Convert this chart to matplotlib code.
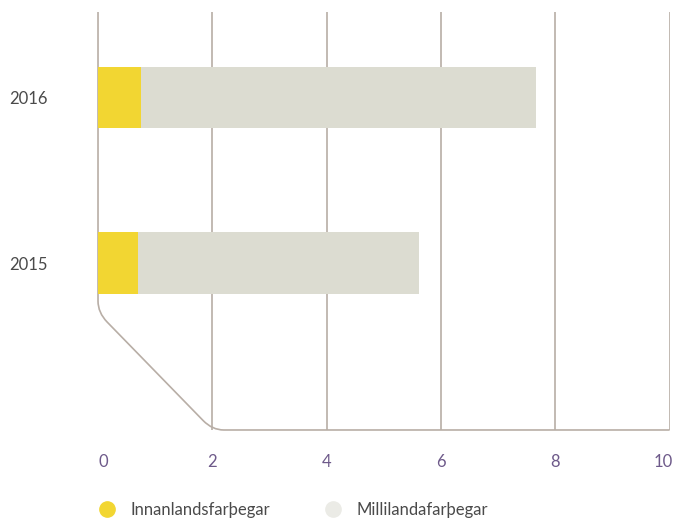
import matplotlib
matplotlib.use("Agg")
import matplotlib.pyplot as plt
import matplotlib.transforms as mtransforms
from matplotlib.path import Path
from matplotlib.patches import PathPatch
from matplotlib.lines import Line2D

years = ["2015", "2016"]
innanlands = [0.70, 0.75]
millilanda = [4.92, 6.91]
series_names = ["Innanlandsfarþegar", "Millilandafarþegar"]
x_ticks = [0, 2, 4, 6, 8, 10]

yellow = "#f2d632"
grey = "#dcdcd1"
line_col = "#b8aea6"
purple = "#6e5a8a"
text_col = "#4a4a4a"

plt.rcParams["font.family"] = ["Lato", "DejaVu Sans"]

fig = plt.figure(figsize=(6.75, 5.2), dpi=100)
ax = fig.add_axes([0.1452, 0.1731, 0.8468, 0.8038])

ypos = list(range(len(years)))
ax.barh(ypos, innanlands, height=0.37, color=yellow, zorder=3)
ax.barh(ypos, millilanda, left=innanlands, height=0.37, color=grey, zorder=3)

ybot, ytop = -1.009, 1.517
ax.set_xlim(0, 10)
ax.set_ylim(ybot, ytop)

# vertical gridlines (except 0, which is the axis path)
for x in x_ticks[1:]:
    ax.plot([x, x], [ybot, ytop], color=line_col, lw=1.2, zorder=1,
            solid_capstyle="butt")

# axis path: down at x=0, diagonal to (2, bottom), then along the bottom
ya = -0.30
dx, dy = 2.0, ybot - ya
t = 0.08
verts = [(0, ytop), (0, ya + 0.07),
         (0, ya), (t * dx, ya + t * dy),
         (dx - t * dx, ybot - t * dy), (dx, ybot), (dx + 0.2, ybot),
         (10, ybot)]
codes = [Path.MOVETO, Path.LINETO, Path.CURVE3, Path.CURVE3,
         Path.LINETO, Path.CURVE3, Path.CURVE3, Path.LINETO]
ax.add_patch(PathPatch(Path(verts, codes), fill=False, edgecolor=line_col,
                       lw=1.2, zorder=2, clip_on=False))

for s in ax.spines.values():
    s.set_visible(False)

ax.set_yticks(ypos)
ax.set_yticklabels(years, fontsize=12, color=text_col)
ax.set_xticks(x_ticks)
ax.set_xticklabels([str(v) for v in x_ticks], fontsize=12, color=purple)
ax.tick_params(axis="y", length=0, pad=36)
ax.tick_params(axis="x", length=0, pad=17)

xlabels = ax.get_xticklabels()
for lab, shift in [(xlabels[0], 5), (xlabels[-1], -6)]:
    lab.set_transform(lab.get_transform() +
                      mtransforms.ScaledTranslation(shift / 100, 0, fig.dpi_scale_trans))

handles = [Line2D([], [], marker="o", linestyle="", markersize=11,
                  markerfacecolor=yellow, markeredgecolor=yellow),
           Line2D([], [], marker="o", linestyle="", markersize=11,
                  markerfacecolor="#ebebe6", markeredgecolor="#ebebe6")]
fig.legend(handles, series_names, loc="center left",
           bbox_to_anchor=(0.112, 0.02), ncol=2, frameon=False,
           fontsize=12, labelcolor=text_col, handletextpad=0.4,
           columnspacing=2.75)

fig.savefig("out.png", dpi=100)
